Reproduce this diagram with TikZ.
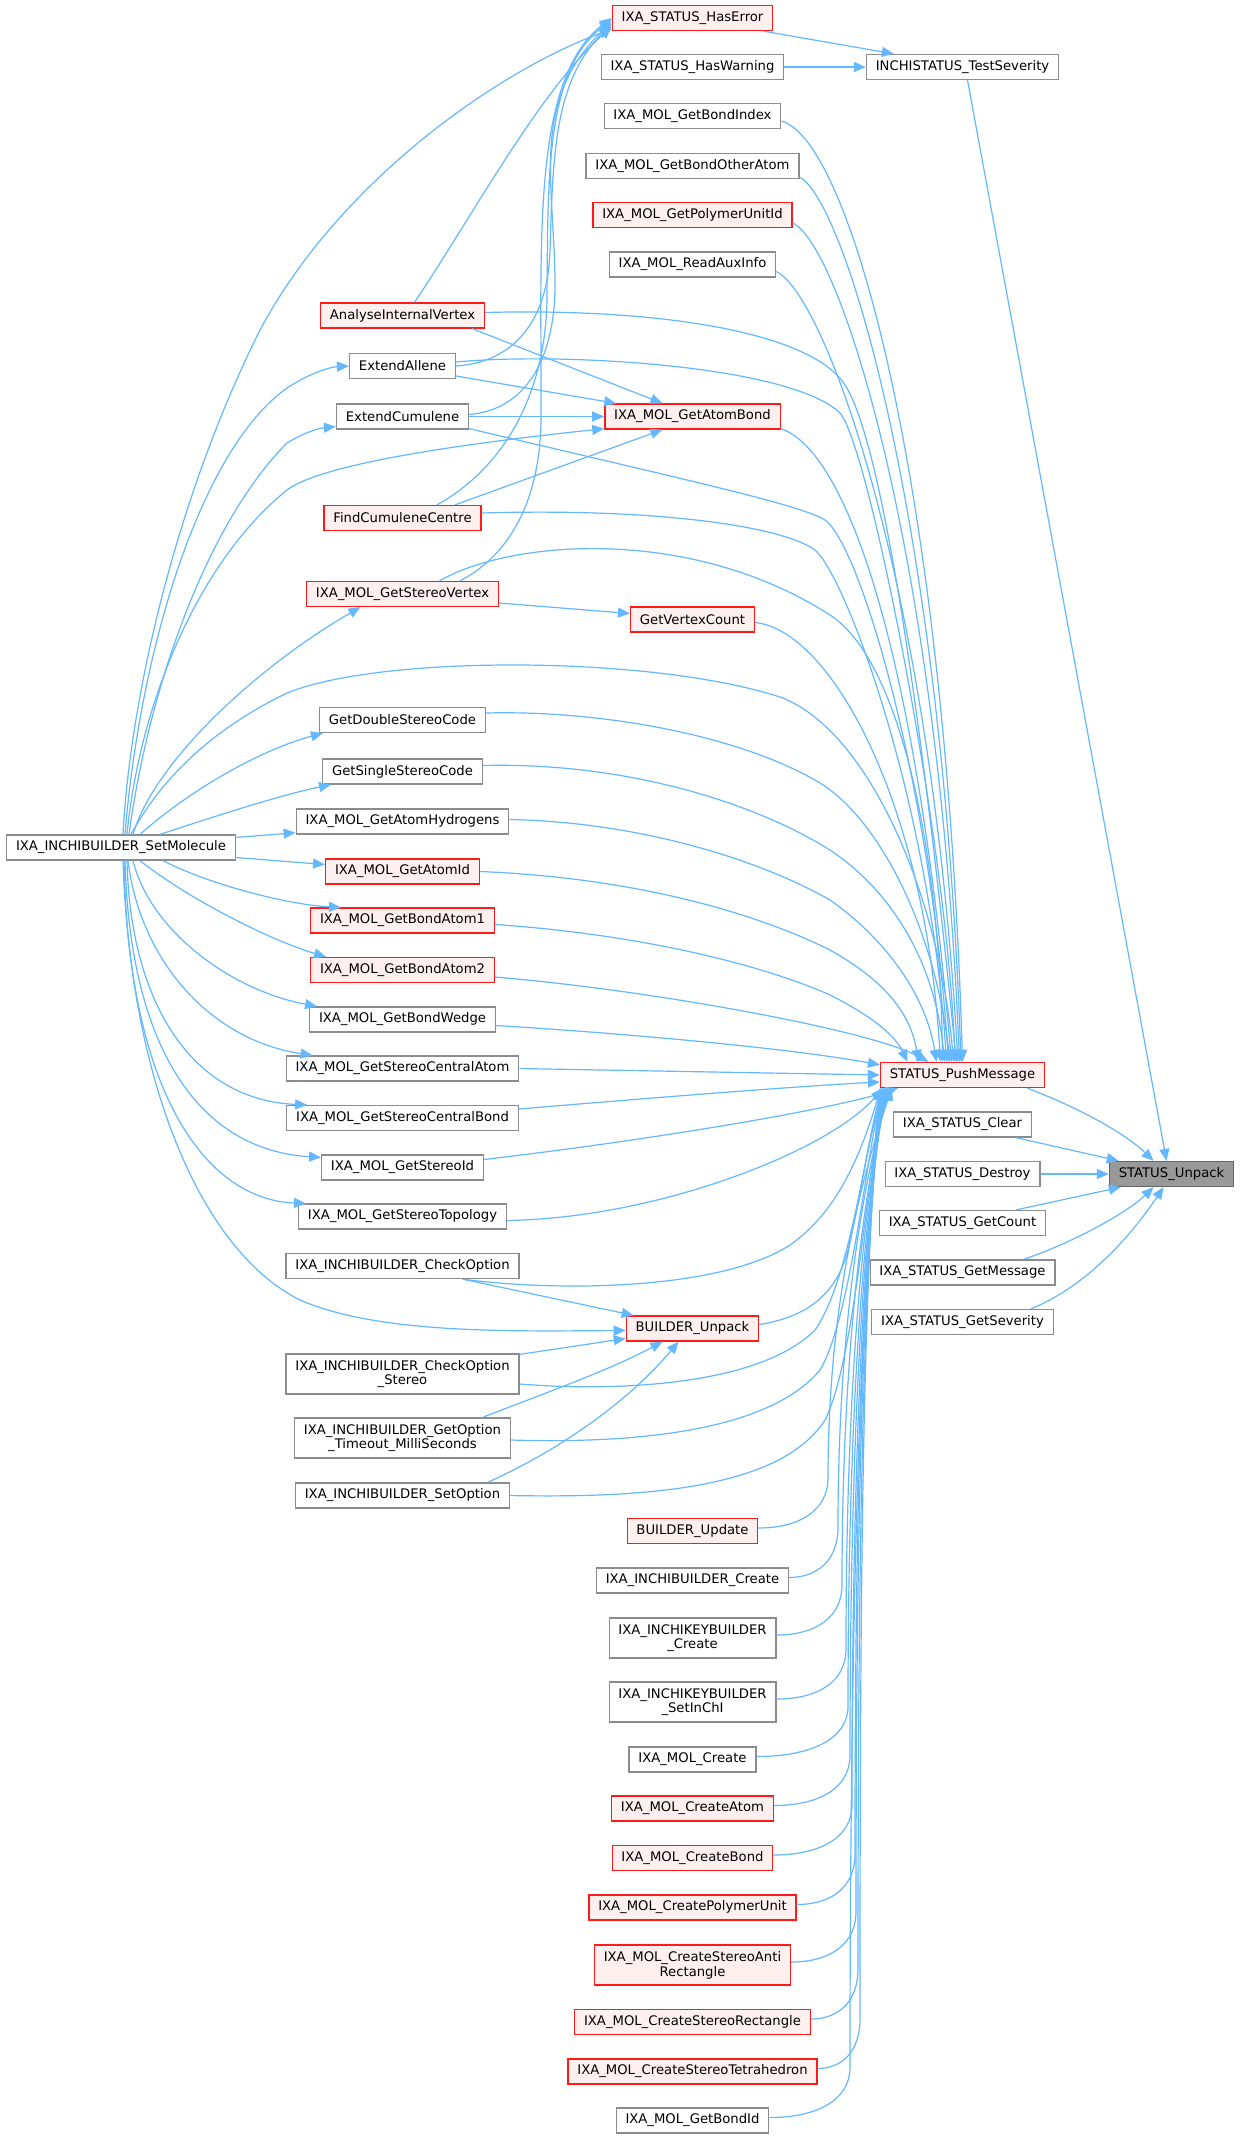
\documentclass[tikz,border=0pt]{standalone}
\usepackage{fontspec}
\setmainfont{DejaVu Sans}
\usetikzlibrary{arrows.meta,calc}
\definecolor{edgec}{HTML}{63B8FF}
\definecolor{nbord}{HTML}{8C8C8C}
\definecolor{rbord}{HTML}{FF1A1A}
\definecolor{rfill}{HTML}{FFF0F0}
\definecolor{sfill}{HTML}{999999}
\definecolor{sbord}{HTML}{666666}
\tikzset{
  fn/.style={rectangle, draw=nbord, fill=white, line width=0.95pt, inner xsep=7pt, inner ysep=0pt,
    minimum height=18.75pt, font=\fontsize{9.9}{11}\selectfont, text=black, align=center},
  rn/.style={fn, draw=rbord, fill=rfill},
  sn/.style={fn, draw=sbord, fill=sfill},
  two/.style={minimum height=30pt},
  edg/.style={draw=edgec, line width=0.9pt, -{Triangle[length=9pt,width=7.5pt]}},
}
\begin{document}
\begin{tikzpicture}[x=0.75pt,y=-0.75pt]
\fill[white] (0,0) rectangle (1240,2139);
\useasboundingbox (0,0) rectangle (1240,2139);

% rank E
\node[sn] (ue) at (1171.5,1174) {STATUS\_Unpack};
% rank D
\node[rn] (pm) at (962.5,1075) {STATUS\_PushMessage};
\node[fn] (ts) at (962.5,67) {INCHISTATUS\_TestSeverity};
\node[fn] (cl) at (962.5,1124.5) {IXA\_STATUS\_Clear};
\node[fn] (de) at (962.5,1174) {IXA\_STATUS\_Destroy};
\node[fn] (gc) at (962.5,1223) {IXA\_STATUS\_GetCount};
\node[fn] (gmsg) at (962.5,1272.5) {IXA\_STATUS\_GetMessage};
\node[fn] (gsev) at (962.5,1322) {IXA\_STATUS\_GetSeverity};
% rank C
\node[rn] (he) at (692.5,18) {IXA\_STATUS\_HasError};
\node[fn] (hw) at (692.5,67) {IXA\_STATUS\_HasWarning};
\node[fn] (gbi) at (692.5,116) {IXA\_MOL\_GetBondIndex};
\node[fn] (gboa) at (692.5,166) {IXA\_MOL\_GetBondOtherAtom};
\node[rn] (gpu) at (692.5,215) {IXA\_MOL\_GetPolymerUnitId};
\node[fn] (rai) at (692.5,264.5) {IXA\_MOL\_ReadAuxInfo};
\node[rn] (gab) at (692.5,416.5) {IXA\_MOL\_GetAtomBond};
\node[rn] (gvc) at (692.5,619.5) {GetVertexCount};
\node[rn] (bu) at (692.5,1328.5) {BUILDER\_Unpack};
\node[rn] (bupd) at (692.5,1531) {BUILDER\_Update};
\node[fn] (ibc) at (692.5,1580.5) {IXA\_INCHIBUILDER\_Create};
\node[fn,two] (ikc) at (692.5,1638) {IXA\_INCHIKEYBUILDER\\\_Create};
\node[fn,two] (iks) at (692.5,1702) {IXA\_INCHIKEYBUILDER\\\_SetInChI};
\node[fn] (mc) at (692.5,1759.5) {IXA\_MOL\_Create};
\node[rn] (mca) at (692.5,1808.5) {IXA\_MOL\_CreateAtom};
\node[rn] (mcb) at (692.5,1858) {IXA\_MOL\_CreateBond};
\node[rn] (mcp) at (692.5,1907.5) {IXA\_MOL\_CreatePolymerUnit};
\node[rn,two] (mcsar) at (692.5,1965) {IXA\_MOL\_CreateStereoAnti\\Rectangle};
\node[rn] (mcsr) at (692.5,2022) {IXA\_MOL\_CreateStereoRectangle};
\node[rn] (mcst) at (692.5,2071.5) {IXA\_MOL\_CreateStereoTetrahedron};
\node[fn] (gbid) at (692.5,2120.5) {IXA\_MOL\_GetBondId};
% rank B
\node[rn] (aiv) at (402.5,315.5) {AnalyseInternalVertex};
\node[fn] (ea) at (402.5,366) {ExtendAllene};
\node[fn] (ec) at (402.5,416.5) {ExtendCumulene};
\node[rn] (fcc) at (402.5,518) {FindCumuleneCentre};
\node[rn] (gsv) at (402.5,594) {IXA\_MOL\_GetStereoVertex};
\node[fn] (gdsc) at (402.5,720) {GetDoubleStereoCode};
\node[fn] (gssc) at (402.5,771.5) {GetSingleStereoCode};
\node[fn] (gah) at (402.5,821.5) {IXA\_MOL\_GetAtomHydrogens};
\node[rn] (gaid) at (402.5,871.5) {IXA\_MOL\_GetAtomId};
\node[rn] (gba1) at (402.5,920.5) {IXA\_MOL\_GetBondAtom1};
\node[rn] (gba2) at (402.5,970) {IXA\_MOL\_GetBondAtom2};
\node[fn] (gbw) at (402.5,1019.5) {IXA\_MOL\_GetBondWedge};
\node[fn] (gsca) at (402.5,1068.5) {IXA\_MOL\_GetStereoCentralAtom};
\node[fn] (gscb) at (402.5,1118) {IXA\_MOL\_GetStereoCentralBond};
\node[fn] (gsid) at (402.5,1167.5) {IXA\_MOL\_GetStereoId};
\node[fn] (gst) at (402.5,1216.5) {IXA\_MOL\_GetStereoTopology};
\node[fn] (co) at (402.5,1266) {IXA\_INCHIBUILDER\_CheckOption};
\node[fn,two] (cos) at (402.5,1374) {IXA\_INCHIBUILDER\_CheckOption\\\_Stereo};
\node[fn,two] (got) at (402.5,1438) {IXA\_INCHIBUILDER\_GetOption\\\_Timeout\_MilliSeconds};
\node[fn] (so) at (402.5,1495.5) {IXA\_INCHIBUILDER\_SetOption};
% rank A
\node[fn] (sm) at (121,847.5) {IXA\_INCHIBUILDER\_SetMolecule};

% ---- right part
\draw[edg] ($(he.south east)+(-10,0)$) -- ($(ts.north west)+(28,0)$);
\draw[edg] (hw.east) -- (ts.west);
\draw[edg] ($(ts.south)+(5,0)$) -- ($(ue.north)+(-5,0)$);
\draw[edg] ($(pm.south east)+(-18,0)$) .. controls (1090,1112) and (1130,1138) .. ($(ue.north)+(-18,0)$);
\draw[edg] ($(cl.south east)+(-16,0)$) -- ($(ue.north west)+(10,0)$);
\draw[edg] (de.east) -- (ue.west);
\draw[edg] ($(gc.north east)+(-30,0)$) -- ($(ue.south west)+(12,0)$);
\draw[edg] ($(gmsg.north east)+(-32,0)$) .. controls (1080,1240) and (1130,1210) .. ($(ue.south)+(-18,0)$);
\draw[edg] ($(gsev.north east)+(-23,0)$) .. controls (1090,1285) and (1135,1230) .. ($(ue.south)+(-8,0)$);

% ---- rank C upper -> PushMessage
\draw[edg] ($(gbi.east)+(0,5)$) .. controls (850,140) and (945,480) .. (pm.north);
\draw[edg] ($(gboa.south east)+(0,-2)$) .. controls (845,200) and (942,520) .. ($(pm.north)+(-1.5,0)$);
\draw[edg] ($(gpu.east)+(0,8)$) .. controls (840,245) and (938,550) .. ($(pm.north)+(-3,0)$);
\draw[edg] ($(rai.east)+(0,7)$) .. controls (825,295) and (930,580) .. ($(pm.north)+(-4.5,0)$);
\draw[edg] ($(gab.south east)+(0,-1)$) .. controls (845,450) and (915,640) .. ($(pm.north)+(-11,0)$);
\draw[edg] ($(gvc.east)+(0,3)$) .. controls (830,630) and (925,800) .. ($(pm.north)+(-22,0)$);

% ---- rank B upper -> PushMessage
\draw[edg] ($(aiv.east)+(0,-3)$) .. controls (650,308) and (810,330) .. (845,385) .. controls (900,470) and (950,1000) .. ($(pm.north)+(-6,0)$);
\draw[edg] ($(ea.east)+(0,-4)$) .. controls (560,352) and (790,365) .. (840,413) .. controls (870,448) and (948,850) .. ($(pm.north)+(-7.5,0)$);
\draw[edg] ($(ec.south east)+(0,-1)$) .. controls (700,483) and (800,505) .. (825,520) .. controls (860,545) and (930,780) .. ($(pm.north)+(-14,0)$);
\draw[edg] ($(fcc.east)+(0,-5)$) .. controls (650,508) and (780,525) .. (815,550) .. controls (845,575) and (930,800) .. ($(pm.north)+(-16,0)$);
\draw[edg] ($(gsv.north)+(37,0)$) .. controls (510,540) and (690,525) .. (830,615) .. controls (900,660) and (940,850) .. ($(pm.north)+(-20,0)$);
\draw[edg] ($(sm.north)+(10,0)$) .. controls (150,800) and (190,740) .. (287,693) .. controls (380,655) and (650,655) .. (780,697) .. controls (870,730) and (940,900) .. ($(pm.north)+(-9,0)$);
\draw[edg] ($(gdsc.east)+(0,-7)$) .. controls (600,710) and (740,735) .. (820,783) .. controls (880,820) and (935,930) .. ($(pm.north)+(-12.5,0)$);
\draw[edg] ($(gssc.east)+(0,-6)$) .. controls (620,762) and (750,800) .. (830,850) .. controls (890,890) and (935,960) .. ($(pm.north)+(-18,0)$);
\draw[edg] ($(gah.east)+(0,-2)$) .. controls (640,822) and (760,860) .. (830,900) .. controls (880,935) and (925,990) .. ($(pm.north)+(-26,0)$);
\draw[edg] (gaid.east) .. controls (640,878) and (760,915) .. (830,950) .. controls (880,978) and (910,1010) .. ($(pm.north)+(-44,0)$);
\draw[edg] ($(gba1.east)+(0,4)$) .. controls (650,935) and (770,968) .. (830,995) .. controls (870,1015) and (895,1035) .. ($(pm.north)+(-55,0)$);
\draw[edg] ($(gba2.east)+(0,7)$) .. controls (650,990) and (870,1030) .. ($(pm.north)+(-34,0)$);
\draw[edg] ($(gbw.east)+(0,6)$) .. controls (650,1035) and (800,1050) .. ($(pm.north west)+(0,3)$);
\draw[edg] (gsca.east) -- (pm.west);
\draw[edg] ($(gscb.east)+(0,-9)$) .. controls (650,1098) and (800,1086) .. ($(pm.west)+(0,7)$);
\draw[edg] ($(gsid.east)+(0,-8)$) .. controls (650,1140) and (830,1110) .. ($(pm.south west)+(18,0)$);
\draw[edg] ($(gst.east)+(0,4)$) .. controls (660,1218) and (830,1150) .. ($(pm.south west)+(3,0)$);
\draw[edg] ($(co.south east)+(-57,0)$) .. controls (560,1292) and (720,1290) .. (790,1245) .. controls (840,1210) and (862,1150) .. ($(pm.south west)+(1,0)$);
\draw[edg] ($(cos.east)+(0,10)$) .. controls (620,1392) and (760,1385) .. (815,1330) .. controls (850,1280) and (865,1150) .. ($(pm.south west)+(2,0)$);
\draw[edg] ($(got.east)+(0,2)$) .. controls (640,1444) and (770,1430) .. (820,1370) .. controls (850,1320) and (866,1160) .. ($(pm.south west)+(3,0)$);
\draw[edg] (so.east) .. controls (640,1498) and (780,1490) .. (825,1420) .. controls (855,1360) and (868,1170) .. ($(pm.south west)+(4,0)$);
\draw[edg] ($(bu.east)+(0,-4)$) .. controls (800,1318) and (835,1300) .. (848,1250) .. controls (860,1200) and (870,1130) .. ($(pm.south west)+(5,0)$);

% ---- rank C lower -> PushMessage
\draw[edg] ($(bupd.east)+(0,-3)$) .. controls (800,1528) and (828,1510) .. (828,1478) .. controls (828,1302) and (862,1176) .. ($(pm.south west)+(12,0)$);
\draw[edg] ($(ibc.east)+(0,-3)$) .. controls (818,1577.5) and (838,1559.5) .. (838,1527.5) .. controls (838,1330) and (862,1186) .. ($(pm.south west)+(10,0)$);
\draw[edg] ($(ikc.east)+(0,-3)$) .. controls (816,1635) and (842,1617) .. (842,1585) .. controls (842,1361) and (862,1197) .. ($(pm.south west)+(9,0)$);
\draw[edg] ($(iks.east)+(0,-3)$) .. controls (819,1699) and (846,1681) .. (846,1649) .. controls (846,1396) and (862,1210) .. ($(pm.south west)+(8,0)$);
\draw[edg] ($(mc.east)+(0,-3)$) .. controls (812,1756.5) and (848,1738.5) .. (848,1706.5) .. controls (848,1428) and (862,1222) .. ($(pm.south west)+(7,0)$);
\draw[edg] ($(mca.east)+(0,-3)$) .. controls (820,1805.5) and (850,1787.5) .. (850,1755.5) .. controls (850,1455) and (862,1232) .. ($(pm.south west)+(6,0)$);
\draw[edg] ($(mcb.east)+(0,-3)$) .. controls (821,1855) and (852,1837) .. (852,1805) .. controls (852,1482) and (862,1241) .. ($(pm.south west)+(5,0)$);
\draw[edg] ($(mcp.east)+(0,-3)$) .. controls (832,1904.5) and (855,1886.5) .. (855,1854.5) .. controls (855,1510) and (862,1251) .. ($(pm.south west)+(4,0)$);
\draw[edg] ($(mcsar.east)+(0,-3)$) .. controls (830,1962) and (856,1944) .. (856,1912) .. controls (856,1541) and (862,1263) .. ($(pm.south west)+(3,0)$);
\draw[edg] ($(mcsr.east)+(0,-3)$) .. controls (839,2019) and (858,2001) .. (858,1969) .. controls (858,1572) and (862,1274) .. ($(pm.south west)+(2,0)$);
\draw[edg] ($(mcst.east)+(0,-3)$) .. controls (843,2068.5) and (860,2050.5) .. (860,2018.5) .. controls (860,1600) and (862,1284) .. ($(pm.south west)+(1,0)$);
\draw[edg] ($(gbid.east)+(0,-3)$) .. controls (818,2117.5) and (850,2099.5) .. (850,2067.5) .. controls (850,1627) and (860,1294) .. (pm.south west);

% ---- -> HasError
\draw[edg] ($(sm.north)+(2,0)$) .. controls (130,700) and (175,500) .. (260,330) .. controls (340,180) and (500,70) .. ($(he.south west)+(0,-2)$);
\draw[edg] ($(aiv.north)+(12,0)$) .. controls (470,220) and (540,90) .. ($(he.west)+(0,9)$);
\draw[edg] (ea.east) .. controls (515,362) and (548,320) .. (550,250) .. controls (553,150) and (555,80) .. ($(he.west)+(0,6)$);
\draw[edg] ($(ec.east)+(0,-2)$) .. controls (525,410) and (556,360) .. (555,280) .. controls (554,180) and (530,100) .. ($(he.west)+(0,4)$);
\draw[edg] ($(fcc.north)+(34.5,0)$) .. controls (500,470) and (545,400) .. (547,300) .. controls (548,180) and (545,70) .. ($(he.west)+(0,2)$);
\draw[edg] ($(gsv.north)+(57.5,0)$) .. controls (510,555) and (540,500) .. (541,420) .. controls (542,250) and (530,80) .. (he.west);

% ---- -> GetAtomBond
\draw[edg] ($(aiv.south east)+(-13,0)$) -- ($(gab.north)+(-30,0)$);
\draw[edg] ($(ea.east)+(0,10)$) -- ($(gab.north west)+(12,0)$);
\draw[edg] (ec.east) -- (gab.west);
\draw[edg] ($(sm.north)+(6,0)$) .. controls (140,700) and (200,560) .. (287,490) .. controls (320,465) and (450,445) .. ($(gab.south west)+(0,-1)$);
\draw[edg] ($(fcc.north)+(52.5,0)$) -- ($(gab.south)+(-30,0)$);
\draw[edg] ($(gsv.east)+(0,9)$) -- ($(gvc.west)+(0,-6)$);

% ---- SetMolecule -> rank B
\draw[edg] ($(sm.north)+(4,0)$) .. controls (140,650) and (200,450) .. (287,388) .. controls (310,373) and (330,367) .. (ea.west);
\draw[edg] ($(sm.north)+(8,0)$) .. controls (150,680) and (210,520) .. (287,443) .. controls (305,432) and (320,428) .. ($(ec.south west)+(0,-3)$);
\draw[edg] ($(sm.north)+(12,0)$) .. controls (155,760) and (260,665) .. ($(gsv.south)+(-42,0)$);
\draw[edg] ($(sm.north)+(19,0)$) .. controls (190,790) and (260,750) .. ($(gdsc.south west)+(4,0)$);
\draw[edg] ($(sm.north)+(39,0)$) .. controls (210,818) and (280,795) .. ($(gssc.south west)+(9,0)$);
\draw[edg] ($(sm.east)+(0,-10)$) -- ($(gah.south west)+(0,-2)$);
\draw[edg] ($(sm.east)+(0,10)$) -- ($(gaid.west)+(0,-7)$);
\draw[edg] ($(sm.south)+(42,0)$) .. controls (210,885) and (290,905) .. ($(gba1.north west)+(31,0)$);
\draw[edg] ($(sm.south)+(19,0)$) .. controls (190,900) and (270,940) .. ($(gba2.north west)+(16,0)$);
\draw[edg] ($(sm.south)+(12,0)$) .. controls (150,930) and (230,990) .. ($(gbw.north west)+(8,0)$);
\draw[edg] ($(sm.south)+(7,0)$) .. controls (140,960) and (210,1040) .. ($(gsca.north west)+(27,0)$);
\draw[edg] ($(sm.south)+(6,0)$) .. controls (130,1000) and (190,1100) .. ($(gscb.north west)+(21,0)$);
\draw[edg] ($(sm.south)+(4,0)$) .. controls (130,1050) and (200,1150) .. ($(gsid.north west)+(0,3)$);
\draw[edg] ($(sm.south)+(3,0)$) .. controls (128,1100) and (210,1200) .. ($(gst.north west)+(8,0)$);
\draw[edg] ($(sm.south)+(2,0)$) .. controls (130,1080) and (200,1250) .. (300,1300) .. controls (380,1335) and (520,1331) .. ($(bu.west)+(0,2)$);

% ---- -> BUILDER_Unpack
\draw[edg] ($(co.south east)+(-57,0)$) -- ($(bu.north west)+(8,0)$);
\draw[edg] ($(cos.north east)+(0,1)$) -- ($(bu.west)+(0,10)$);
\draw[edg] ($(got.north)+(80,0)$) .. controls (540,1395) and (610,1370) .. ($(bu.south)+(-30,0)$);
\draw[edg] ($(so.north)+(85,0)$) .. controls (560,1450) and (630,1400) .. ($(bu.south)+(-14,0)$);
\end{tikzpicture}
\end{document}
